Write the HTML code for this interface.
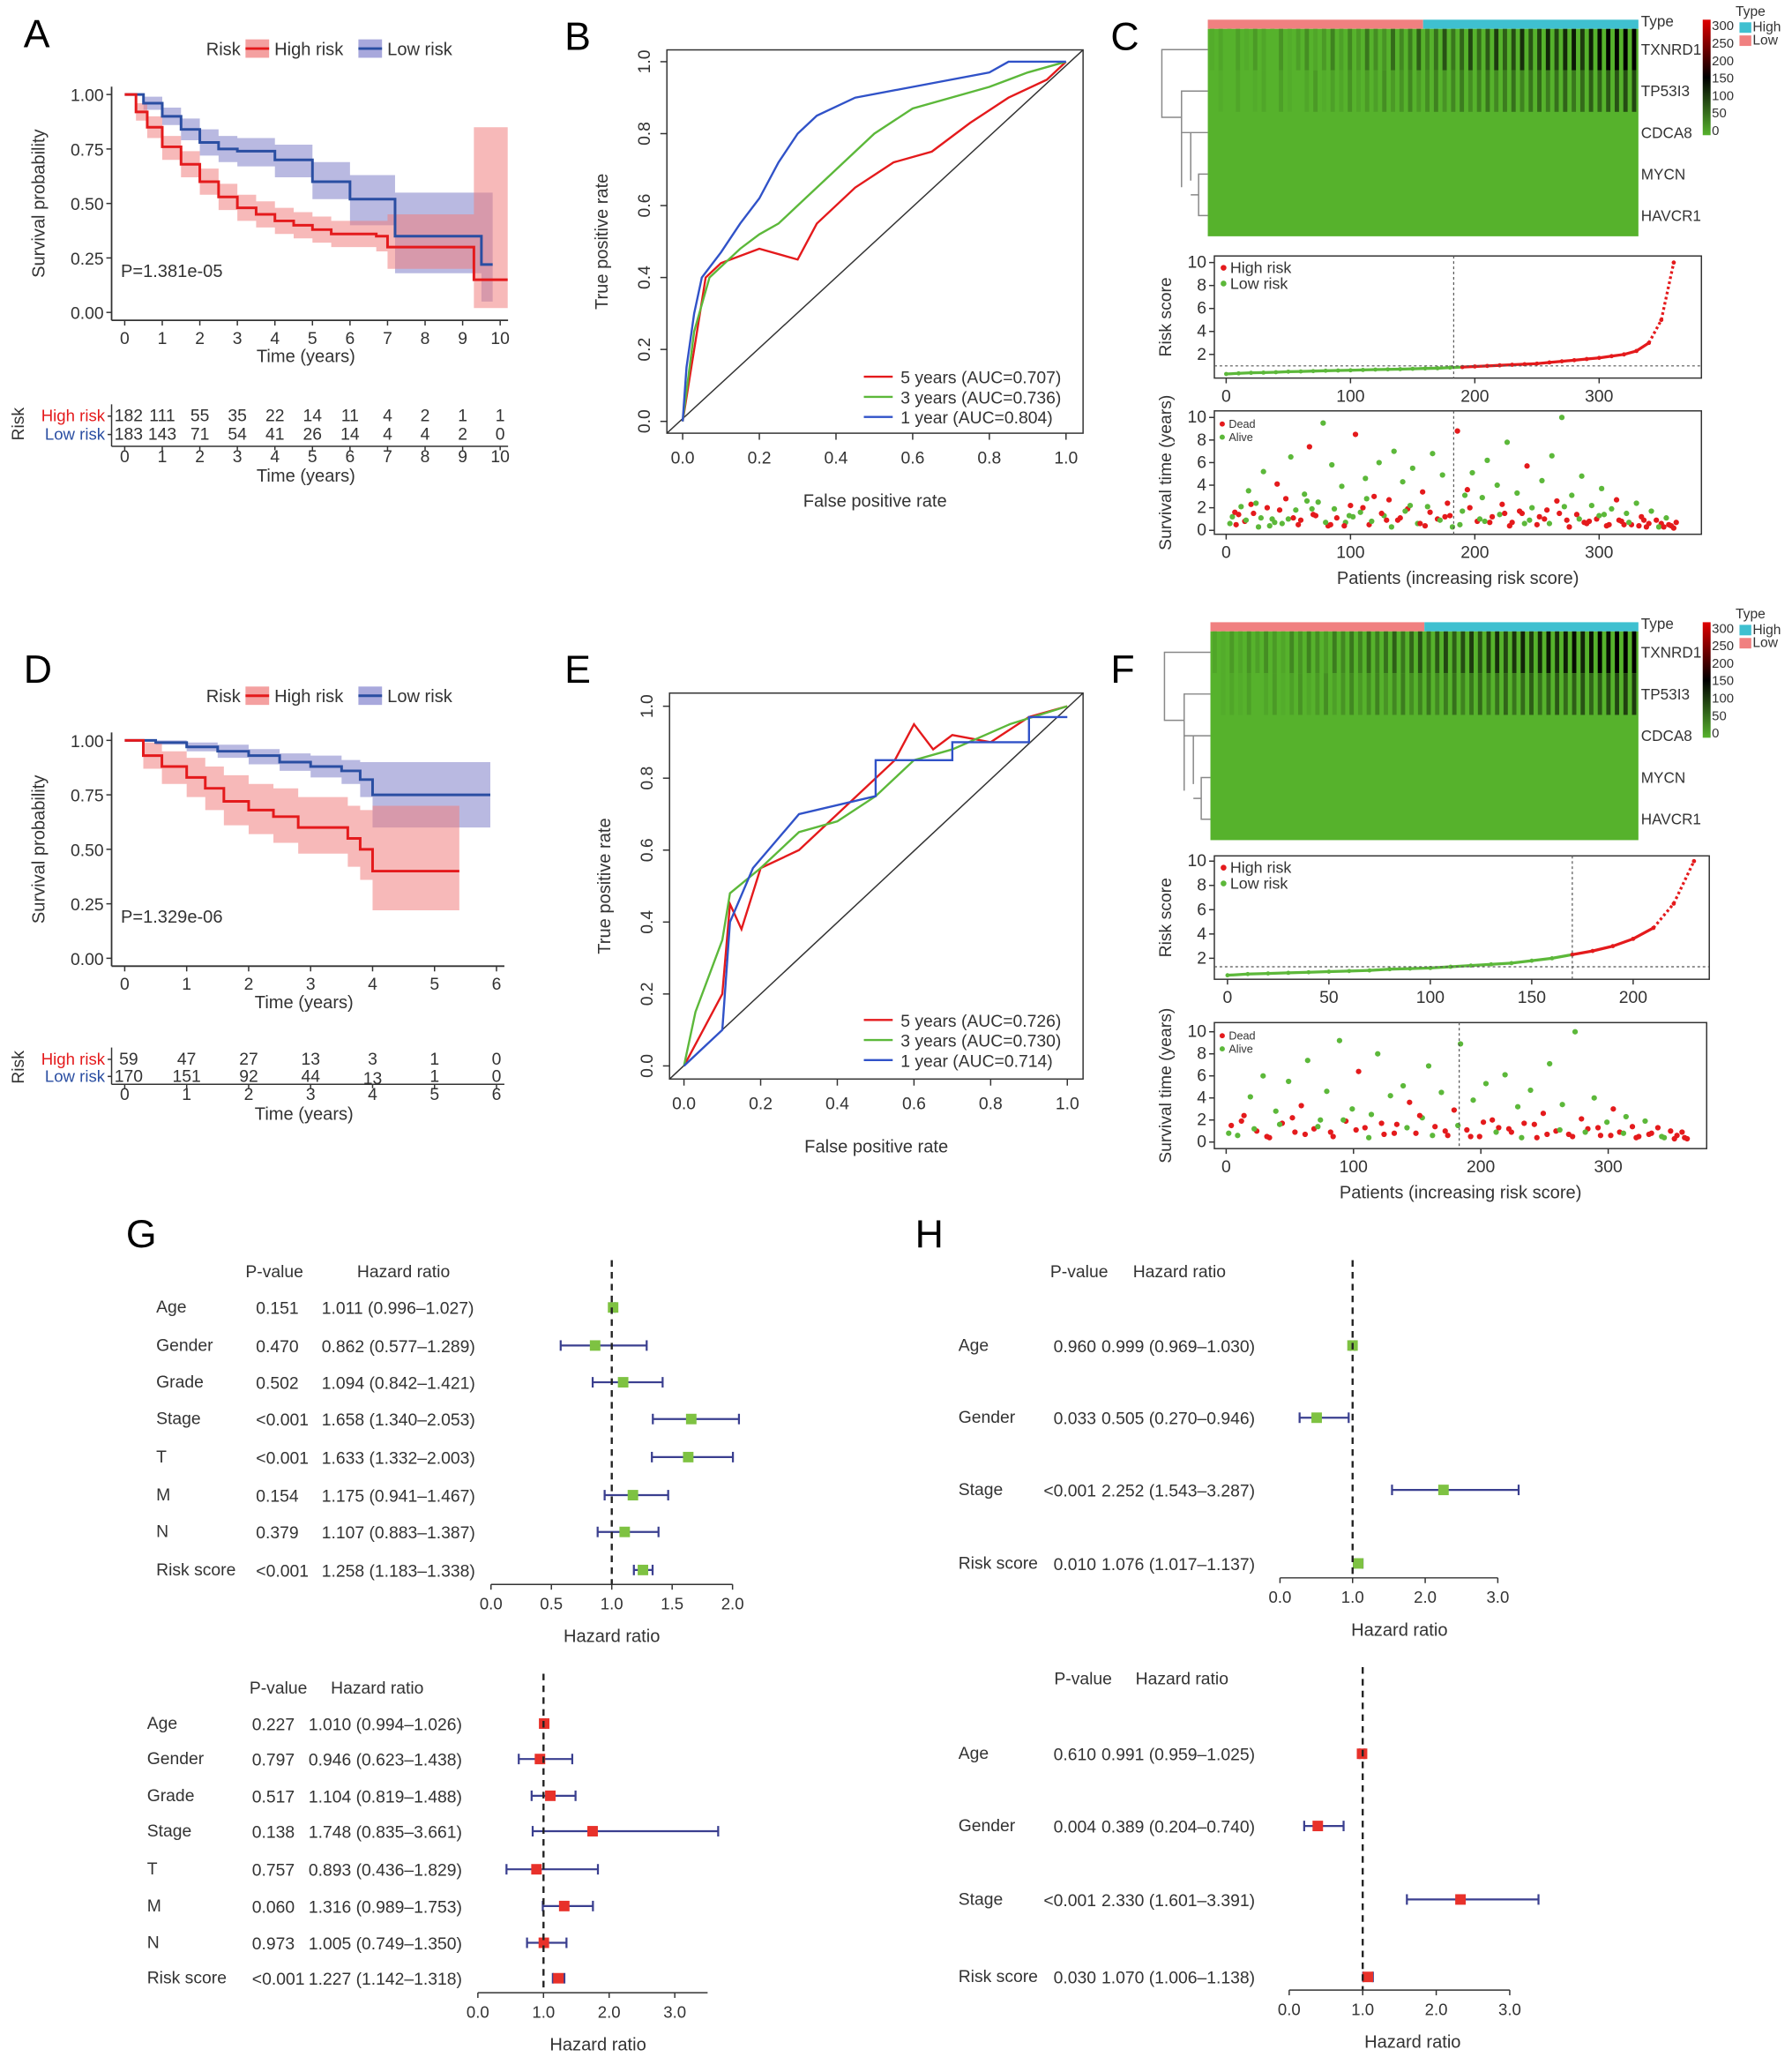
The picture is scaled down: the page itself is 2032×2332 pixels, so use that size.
<!DOCTYPE html>
<html><head><meta charset="utf-8"><style>
html,body{margin:0;padding:0;background:#fff;}
svg{display:block;font-family:"Liberation Sans",Arial,sans-serif;}
</style></head><body>
<svg id="fig" width="2032" height="2332" viewBox="0 0 1365 1567" preserveAspectRatio="none" xmlns="http://www.w3.org/2000/svg"></svg>
<script>
// ---------- DATA ----------
const kmA_high_t=[0,0.3,0.6,1,1.5,2,2.5,3,3.5,4,4.5,5,5.5,6.7,7,9.3,10.2];
const kmA_high_s=[1,0.92,0.85,0.76,0.68,0.6,0.53,0.48,0.45,0.42,0.4,0.38,0.36,0.35,0.3,0.15,0.15];
const kmA_high_lo=[1,0.88,0.8,0.7,0.62,0.54,0.47,0.42,0.39,0.36,0.34,0.32,0.3,0.28,0.2,0.02,0.02];
const kmA_high_hi=[1,0.96,0.9,0.81,0.74,0.66,0.59,0.54,0.51,0.48,0.46,0.44,0.42,0.42,0.45,0.85,0.85];
const kmA_low_t=[0,0.5,1,1.5,2,2.5,3,4,5,6,7.2,9.5,9.8];
const kmA_low_s=[1,0.96,0.9,0.84,0.78,0.75,0.74,0.7,0.6,0.52,0.35,0.22,0.22];
const kmA_low_lo=[1,0.93,0.86,0.79,0.72,0.69,0.67,0.62,0.52,0.4,0.18,0.05,0.05];
const kmA_low_hi=[1,0.99,0.94,0.89,0.84,0.81,0.8,0.77,0.69,0.63,0.55,0.55,0.55];
const kmD_high_t=[0,0.3,0.6,1,1.3,1.6,2,2.4,2.8,3.6,3.8,4,5.4];
const kmD_high_s=[1,0.93,0.88,0.83,0.78,0.72,0.68,0.65,0.6,0.55,0.5,0.4,0.4];
const kmD_high_lo=[1,0.87,0.8,0.74,0.68,0.61,0.57,0.53,0.48,0.42,0.36,0.22,0.22];
const kmD_high_hi=[1,0.99,0.95,0.92,0.88,0.84,0.8,0.78,0.74,0.7,0.68,0.7,0.7];
const kmD_low_t=[0,0.5,1,1.5,2,2.5,3,3.5,3.8,4,5.9];
const kmD_low_s=[1,0.99,0.97,0.95,0.93,0.9,0.88,0.86,0.82,0.75,0.75];
const kmD_low_lo=[1,0.98,0.95,0.92,0.89,0.86,0.83,0.8,0.74,0.6,0.6];
const kmD_low_hi=[1,1,0.99,0.98,0.96,0.94,0.93,0.91,0.9,0.9,0.9];
const riskA_high=["182","111","55","35","22","14","11","4","2","1","1"];
const riskA_low=["183","143","71","54","41","26","14","4","4","2","0"];
const riskD_high=["59","47","27","13","3","1","0"];
const riskD_low=["170","151","92","44","13","1","0"];

const rocB_red_x=[0,0.03,0.06,0.1,0.2,0.3,0.35,0.45,0.55,0.65,0.75,0.85,0.95,1];
const rocB_red_y=[0,0.2,0.4,0.44,0.48,0.45,0.55,0.65,0.72,0.75,0.83,0.9,0.95,1];
const rocB_green_x=[0,0.03,0.07,0.15,0.2,0.25,0.3,0.4,0.5,0.6,0.8,0.9,1];
const rocB_green_y=[0,0.25,0.4,0.48,0.52,0.55,0.6,0.7,0.8,0.87,0.93,0.97,1];
const rocB_blue_x=[0,0.01,0.03,0.05,0.1,0.15,0.2,0.25,0.3,0.35,0.45,0.6,0.8,0.85,1];
const rocB_blue_y=[0,0.15,0.3,0.4,0.47,0.55,0.62,0.72,0.8,0.85,0.9,0.93,0.97,1,1];
const rocE_red_x=[0,0.05,0.1,0.12,0.15,0.2,0.3,0.4,0.5,0.55,0.6,0.65,0.7,0.8,0.9,1];
const rocE_red_y=[0,0.1,0.2,0.45,0.38,0.55,0.6,0.7,0.8,0.85,0.95,0.88,0.92,0.9,0.97,1];
const rocE_green_x=[0,0.03,0.1,0.12,0.2,0.3,0.4,0.5,0.6,0.7,0.85,1];
const rocE_green_y=[0,0.15,0.35,0.48,0.55,0.65,0.68,0.75,0.85,0.88,0.95,1];
const rocE_blue_x=[0,0.1,0.12,0.18,0.3,0.5,0.5,0.7,0.7,0.9,0.9,1];
const rocE_blue_y=[0,0.1,0.4,0.55,0.7,0.75,0.85,0.85,0.9,0.9,0.97,0.97];

const heatC_txnrd1=[5,10,0,15,5,20,10,0,25,5,15,30,10,20,40,15,35,20,50,30,25,60,35,45,70,40,55,80,50,65,90,60,75,100,70,85,110,80,95,120,90,115,130,100,125,140,150,145,150,150];
const heatC_tp53i3=[0,5,0,10,0,5,10,0,15,5,0,10,20,5,15,10,25,10,20,15,30,20,25,35,20,30,40,25,35,45,30,40,50,35,45,55,40,50,60,45,55,65,50,60,70,65,75,80,85,90];
const heatF_txnrd1=[10,5,20,10,25,15,30,20,10,35,25,40,30,20,45,35,50,40,60,45,55,70,50,65,80,60,75,90,70,85,100,80,95,110,90,105,120,100,115,130,110,125,140,120,135,150,140,150,150,150];
const heatF_tp53i3=[0,5,10,5,15,0,10,20,5,15,25,10,20,30,15,25,35,20,30,40,25,35,45,30,40,50,35,45,55,40,50,60,45,55,65,50,60,70,55,65,75,60,70,80,65,75,85,90,95,100];

const rsC=[0.3,0.35,0.4,0.42,0.45,0.5,0.52,0.55,0.58,0.6,0.62,0.65,0.68,0.7,0.72,0.75,0.78,0.8,0.85,0.9,0.95,1.0,1.05,1.1,1.15,1.2,1.3,1.4,1.5,1.6,1.7,1.85,2.0,2.3,3.0,5.0,10.0];
const rsF=[0.6,0.7,0.75,0.8,0.85,0.9,0.95,1.0,1.1,1.15,1.2,1.3,1.4,1.5,1.6,1.8,2.0,2.3,2.6,3.0,3.6,4.5,6.5,10];

const survC_idx=[5,8,12,15,18,22,26,30,33,37,41,45,48,52,56,60,63,67,70,74,78,82,85,89,93,96,100,104,108,112,115,119,123,127,131,135,138,142,146,150,154,158,162,166,170,174,178,182,186,190,194,198,202,206,210,214,218,222,226,230,234,238,242,246,250,254,258,262,266,270,274,278,282,286,290,294,298,302,306,310,314,318,322,326,330,334,338,342,346,350,354,358,362,
 3,10,16,20,28,35,43,50,58,65,72,80,87,95,102,110,117,125,133,140,148,156,164,172,180,188,196,204,212,220,228,236,244,252,260,268,276,284,292,300,308,316,324,332,340,348,356,360,
 7,24,39,54,69,84,99,113,129,144,160,176,192,208,224,240,256,272,288,304,320,336,352];
const survC_time=[1.2,0.5,2.1,0.8,3.5,1.5,0.3,5.2,2.0,1.0,4.1,0.6,2.8,6.5,1.8,0.9,3.2,7.4,1.4,2.5,9.5,0.4,5.8,1.1,3.9,0.7,2.2,8.5,1.6,4.6,0.5,3.0,6.0,1.3,2.7,7.0,0.9,4.3,1.9,5.5,0.6,3.4,2.1,6.8,1.0,4.9,2.4,0.3,8.8,1.7,3.6,5.1,0.8,2.9,6.2,1.2,4.0,2.3,7.8,0.7,3.3,1.5,5.7,2.0,0.5,4.4,1.8,6.6,2.6,10.0,0.9,3.1,1.4,4.8,0.6,2.2,1.0,3.7,0.4,1.9,2.7,0.8,1.5,0.5,2.4,1.2,0.3,1.7,0.9,0.6,1.1,0.4,0.7,
 0.6,1.4,0.9,2.3,1.1,0.4,1.8,1.0,0.5,2.6,1.3,0.7,1.9,0.4,1.2,2.0,0.8,1.5,0.3,1.1,2.2,0.6,1.6,0.9,1.3,0.5,2.0,1.0,0.7,1.4,0.4,1.7,0.9,1.2,0.6,1.5,0.3,1.0,0.8,1.3,0.5,0.9,0.7,0.4,0.6,0.3,0.5,0.2,
 1.6,2.4,0.7,1.1,1.9,0.5,1.3,2.8,0.9,1.7,0.4,1.2,3.1,0.8,1.5,0.6,1.0,2.1,0.7,1.4,0.5,0.9,0.3];
const survC_dead=[0,1,0,1,0,1,0,0,1,0,1,0,1,0,0,1,0,1,1,0,0,1,0,1,0,0,1,1,0,0,1,1,0,0,1,0,1,0,1,0,0,1,0,0,1,0,1,0,1,0,1,0,1,0,0,1,0,1,0,1,0,1,1,0,1,0,1,0,1,0,1,0,1,0,1,0,1,0,1,0,1,1,0,1,0,1,1,0,1,1,0,1,1,
 0,1,0,1,0,0,1,0,1,0,1,0,0,1,0,1,0,1,0,1,0,1,1,0,1,0,1,0,1,0,1,1,0,1,0,1,1,0,1,0,1,1,0,1,1,0,1,1,
 1,0,0,1,0,1,0,0,1,0,1,1,0,0,1,0,1,0,1,0,1,1,1];
const survF_idx=[4,9,14,19,24,29,34,39,44,49,54,59,64,69,74,79,84,89,94,99,104,109,114,119,124,129,134,139,144,149,154,159,164,169,174,179,184,189,194,199,204,209,214,219,224,229,234,239,244,249,254,259,264,269,274,279,284,289,294,299,304,309,314,319,324,329,334,339,344,349,354,358,362,
 2,12,22,32,42,52,62,72,82,92,102,112,122,132,142,152,162,172,182,192,202,212,222,232,242,252,262,272,282,292,302,312,322,332,342,352,360];
const survF_time=[1.5,0.6,2.4,4.1,1.0,6.0,0.4,2.8,1.7,5.5,0.9,3.3,7.4,1.2,2.0,4.6,0.5,9.2,1.9,3.0,6.4,1.3,2.5,8.0,0.7,4.2,1.6,5.1,3.6,0.8,2.2,6.9,1.4,4.5,0.6,2.9,8.9,1.1,3.8,0.5,5.3,2.0,1.3,6.1,0.9,3.2,1.7,4.7,0.4,2.6,7.1,1.0,3.4,0.7,10.0,2.1,1.2,4.0,0.6,1.8,3.0,0.9,2.3,1.4,0.5,1.9,0.8,1.3,0.4,1.0,0.6,0.9,0.3,
 0.8,1.9,1.2,0.5,1.6,2.2,0.7,1.4,0.9,2.0,1.1,0.4,1.7,0.8,1.3,2.4,0.6,1.0,1.5,0.5,1.8,0.9,1.2,0.4,1.6,0.7,1.1,0.5,0.9,1.3,0.6,0.8,0.4,0.7,0.5,0.3,0.4];
const survF_dead=[1,0,1,0,1,0,1,0,1,0,1,1,0,1,0,0,1,0,1,0,1,1,0,0,1,0,1,0,1,1,0,0,1,0,1,1,0,1,0,1,0,1,1,0,1,0,1,0,1,1,0,1,0,1,0,1,1,0,1,0,1,1,0,1,1,0,1,1,0,1,1,1,1,
 0,1,0,1,0,1,1,0,1,0,1,0,1,1,0,1,0,1,0,1,1,0,1,0,1,1,0,1,0,1,1,0,1,1,0,1,1];

const fgLabels=["Age","Gender","Grade","Stage","T","M","N","Risk score"];
const g1_p=["0.151","0.470","0.502","<0.001","<0.001","0.154","0.379","<0.001"];
const g1_hr=[1.011,0.862,1.094,1.658,1.633,1.175,1.107,1.258];
const g1_lo=[0.996,0.577,0.842,1.340,1.332,0.941,0.883,1.183];
const g1_hi=[1.027,1.289,1.421,2.053,2.003,1.467,1.387,1.338];
const g2_p=["0.227","0.797","0.517","0.138","0.757","0.060","0.973","<0.001"];
const g2_hr=[1.010,0.946,1.104,1.748,0.893,1.316,1.005,1.227];
const g2_lo=[0.994,0.623,0.819,0.835,0.436,0.989,0.749,1.142];
const g2_hi=[1.026,1.438,1.488,3.661,1.829,1.753,1.350,1.318];
const fhLabels=["Age","Gender","Stage","Risk score"];
const h1_p=["0.960","0.033","<0.001","0.010"];
const h1_hr=[0.999,0.505,2.252,1.076];
const h1_lo=[0.969,0.270,1.543,1.017];
const h1_hi=[1.030,0.946,3.287,1.137];
const h2_p=["0.610","0.004","<0.001","0.030"];
const h2_hr=[0.991,0.389,2.330,1.070];
const h2_lo=[0.959,0.204,1.601,1.006];
const h2_hi=[1.025,0.740,3.391,1.138];

// ---------- HELPERS ----------
const NS="http://www.w3.org/2000/svg";
const svg=document.getElementById('fig');
function add(tag,attrs,name,parent){
  const el=document.createElementNS(NS,tag);
  for(const k in attrs) el.setAttribute(k,attrs[k]);
  
  
  (parent||svg).appendChild(el);
  return el;
}
function txt(x,y,s,name,opt){
  opt=opt||{};
  const a={x:x,y:y,'font-size':opt.fs||13,fill:opt.fill||'#333','text-anchor':opt.anchor||'start'};
  if(opt.rot!==undefined) a.transform=`rotate(${opt.rot} ${x} ${y})`;
  const t=add('text',a,name);
  t.textContent=s;
  return t;
}
function line(x1,y1,x2,y2,name,stroke,w,dash){
  const a={x1:x1,y1:y1,x2:x2,y2:y2,stroke:stroke||'#333','stroke-width':w||1};
  if(dash) a['stroke-dasharray']=dash;
  return add('line',a,name);
}
const RED='#e41a1c',BLUE='#2a4ea2',GREEN='#5cb83a';

[["A",18,36],["B",430,38],["C",846,38],["D",18,520],["E",430,520],["F",846,520],["G",96,950],["H",697,950]].forEach(p=>txt(p[1],p[2],p[0],'panel-label-'+p[0].toLowerCase(),{fs:30,fill:'#000'}));

// ---------- KM ----------
function km(cfg){
  const X=t=>cfg.x0+t*cfg.xs, Y=s=>cfg.y0-s*(cfg.y0-cfg.y1);
  function stepPath(ts,ss){let d=`M${X(ts[0])},${Y(ss[0])}`;for(let i=1;i<ts.length;i++){d+=` H${X(ts[i])} V${Y(ss[i])}`;}return d;}
  function band(ts,lo,hi){let up=[],dn=[];for(let i=0;i<ts.length;i++){const xa=X(ts[i]),xb=X(i+1<ts.length?ts[i+1]:ts[i]);up.push(`${xa},${Y(hi[i])}`,`${xb},${Y(hi[i])}`);dn.push(`${xa},${Y(lo[i])}`,`${xb},${Y(lo[i])}`);}return up.concat(dn.reverse()).join(' ');}
  add('polygon',{points:band(cfg.lt,cfg.llo,cfg.lhi),fill:'#8080c8','fill-opacity':0.55},cfg.id+'-low-ci');
  add('polygon',{points:band(cfg.ht,cfg.hlo,cfg.hhi),fill:'#f08080','fill-opacity':0.55},cfg.id+'-high-ci');
  add('path',{d:stepPath(cfg.lt,cfg.ls),stroke:BLUE,'stroke-width':2,fill:'none'},cfg.id+'-low-curve');
  add('path',{d:stepPath(cfg.ht,cfg.hs),stroke:RED,'stroke-width':2,fill:'none'},cfg.id+'-high-curve');
  line(cfg.ax,cfg.y1-6,cfg.ax,cfg.y0+6,cfg.id+'-y-axis','#333',1.2);
  line(cfg.ax,cfg.y0+6,X(cfg.tmax)+6,cfg.y0+6,cfg.id+'-x-axis','#333',1.2);
  [0,0.25,0.5,0.75,1].forEach(v=>{line(cfg.ax-4,Y(v),cfg.ax,Y(v),'y-tick');txt(cfg.ax-6,Y(v)+5,v.toFixed(2),'y-tick-label',{anchor:'end'});});
  for(let t=0;t<=cfg.tmax;t++){line(X(t),cfg.y0+6,X(t),cfg.y0+10,'x-tick');txt(X(t),cfg.y0+24,String(t),'x-tick-label',{anchor:'middle'});}
  txt((cfg.ax+X(cfg.tmax))/2,cfg.y0+38,'Time (years)','x-axis-title',{anchor:'middle',fs:13.5});
  txt(34,(cfg.y0+cfg.y1)/2,'Survival probability','y-axis-title',{anchor:'middle',rot:-90,fs:13.5});
  txt(cfg.ax+7,cfg.y0-27,cfg.p,'p-value',{fs:13.5});
  const ly=cfg.ly;
  txt(157,ly+5,'Risk','legend-title',{fs:13.5});
  add('rect',{x:187,y:ly-7,width:18,height:14,fill:'#f4a0a0'},'legend-high-swatch');line(187,ly,205,ly,'legend-high-line',RED,2);
  txt(209,ly+5,'High risk','legend-high-label',{fs:13.5});
  add('rect',{x:273,y:ly-7,width:18,height:14,fill:'#a8a8dc'},'legend-low-swatch');line(273,ly,291,ly,'legend-low-line',BLUE,2);
  txt(295,ly+5,'Low risk','legend-low-label',{fs:13.5});
  const r=cfg.rt;
  txt(18,r.y1+6,'Risk','risk-table-title',{rot:-90,anchor:'middle',fs:13});
  txt(cfg.ax-5,r.y1+4,'High risk','risk-high-label',{anchor:'end',fill:RED,fs:12.5});
  txt(cfg.ax-5,r.y2+4,'Low risk','risk-low-label',{anchor:'end',fill:BLUE,fs:12.5});
  line(cfg.ax,r.y1-9,cfg.ax,r.axis,'risk-table-y-axis');
  line(cfg.ax-3,r.y1,cfg.ax,r.y1,'rt-ytick');line(cfg.ax-3,r.y2,cfg.ax,r.y2,'rt-ytick');
  line(cfg.ax,r.axis,X(cfg.tmax)+6,r.axis,'risk-table-x-axis');
  cfg.rh.forEach((v,i)=>txt(X(i)+(i==0?3:0),r.y1+4,v,'risk-high-count',{anchor:'middle'}));
  cfg.rl.forEach((v,i)=>txt(X(i)+(i==0?3:0),r.y2+4+(cfg.rlshift&&cfg.rlshift[i]||0),v,'risk-low-count',{anchor:'middle'}));
  for(let t=0;t<=cfg.tmax;t++){line(X(t),r.axis,X(t),r.axis+3,'rt-tick');txt(X(t),r.axis+12,String(t),'rt-tick-label',{anchor:'middle'});}
  txt((cfg.ax+X(cfg.tmax))/2,r.axis+27,'Time (years)','rt-x-title',{anchor:'middle',fs:13.5});
}
km({id:'km-a',x0:95,xs:28.6,y0:238,y1:72,ax:85,tmax:10,p:'P=1.381e-05',ly:37,
  ht:kmA_high_t,hs:kmA_high_s,hlo:kmA_high_lo,hhi:kmA_high_hi,lt:kmA_low_t,ls:kmA_low_s,llo:kmA_low_lo,lhi:kmA_low_hi,
  rh:riskA_high,rl:riskA_low,rt:{y1:317,y2:331,axis:340}});
km({id:'km-d',x0:95,xs:47.2,y0:730,y1:564,ax:85,tmax:6,p:'P=1.329e-06',ly:530,
  ht:kmD_high_t,hs:kmD_high_s,hlo:kmD_high_lo,hhi:kmD_high_hi,lt:kmD_low_t,ls:kmD_low_s,llo:kmD_low_lo,lhi:kmD_low_hi,
  rh:riskD_high,rl:riskD_low,rlshift:[0,0,0,0,2,0,0],rt:{y1:807,y2:820,axis:826}});

// ---------- ROC ----------
function roc(cfg){
  const X=v=>cfg.x0+v*(cfg.x1-cfg.x0), Y=v=>cfg.y0-v*(cfg.y0-cfg.y1);
  add('rect',{x:cfg.bx0,y:cfg.by0,width:cfg.bx1-cfg.bx0,height:cfg.by1-cfg.by0,fill:'none',stroke:'#333','stroke-width':1},cfg.id+'-frame');
  line(cfg.bx0,cfg.by1,cfg.bx1,cfg.by0,cfg.id+'-diagonal','#333',1);
  [0,0.2,0.4,0.6,0.8,1].forEach(v=>{
    line(X(v),cfg.by1,X(v),cfg.by1+5,'x-tick');txt(X(v),cfg.by1+23,v.toFixed(1),'x-tick-label',{anchor:'middle'});
    line(cfg.bx0-5,Y(v),cfg.bx0,Y(v),'y-tick');txt(cfg.bx0-13,Y(v),v.toFixed(1),'y-tick-label',{anchor:'middle',rot:-90});
  });
  txt((cfg.bx0+cfg.bx1)/2,cfg.by1+56,'False positive rate','x-axis-title',{anchor:'middle',fs:13.5});
  txt(cfg.bx0-45,(cfg.by0+cfg.by1)/2,'True positive rate','y-axis-title',{anchor:'middle',rot:-90,fs:13.5});
  cfg.series.forEach(s=>{
    const pts=s.x.map((v,i)=>`${X(v)},${Y(s.y[i])}`).join(' ');
    add('polyline',{points:pts,fill:'none',stroke:s.c,'stroke-width':1.6},cfg.id+'-curve-'+s.n);
  });
  cfg.legend.forEach((l,i)=>{const y=cfg.ly+i*15.3;line(658,y,680,y,'legend-line',l[1],1.6);txt(686,y+5,l[0],'legend-label',{fs:13});});
}
roc({id:'roc-b',x0:520,x1:812,y0:321,y1:47,bx0:508,bx1:825,by0:38,by1:330,ly:287,
  series:[{n:'5y',x:rocB_red_x,y:rocB_red_y,c:RED},{n:'3y',x:rocB_green_x,y:rocB_green_y,c:GREEN},{n:'1y',x:rocB_blue_x,y:rocB_blue_y,c:'#3052c8'}],
  legend:[["5 years (AUC=0.707)",RED],["3 years (AUC=0.736)",GREEN],["1 year (AUC=0.804)",'#3052c8']]});
roc({id:'roc-e',x0:521,x1:813,y0:812,y1:538,bx0:510,bx1:825,by0:528,by1:822,ly:777,
  series:[{n:'5y',x:rocE_red_x,y:rocE_red_y,c:RED},{n:'3y',x:rocE_green_x,y:rocE_green_y,c:GREEN},{n:'1y',x:rocE_blue_x,y:rocE_blue_y,c:'#3052c8'}],
  legend:[["5 years (AUC=0.726)",RED],["3 years (AUC=0.730)",GREEN],["1 year (AUC=0.714)",'#3052c8']]});

// ---------- HEATMAP + risk plots ----------
function heatColor(v){
  const g=[86,178,44];
  if(v<=150){const f=v/150;return `rgb(${Math.round(g[0]*(1-f))},${Math.round(g[1]*(1-f))},${Math.round(g[2]*(1-f))})`;}
  const f=(v-150)/150;return `rgb(${Math.round(230*f)},0,0)`;
}
function heat(cfg){
  const {x0,x1,y0,y1}=cfg;const rh=(y1-y0)/5;
  add('rect',{x:x0,y:y0-7,width:(x1-x0)/2,height:7,fill:'#f08080'},cfg.id+'-anno-low');
  add('rect',{x:(x0+x1)/2,y:y0-7,width:(x1-x0)/2,height:7,fill:'#3fc0d0'},cfg.id+'-anno-high');
  add('rect',{x:x0,y:y0,width:x1-x0,height:y1-y0,fill:'rgb(86,178,44)'},cfg.id+'-body');
  [[cfg.r1,0],[cfg.r2,1]].forEach(([arr,row])=>{
    const w=(x1-x0)/arr.length;
    arr.forEach((v,i)=>add('rect',{x:x0+i*w+w*0.25,y:y0+row*rh,width:w*0.5,height:rh,fill:heatColor(v)},'heat-cell'));
  });
  const genes=["TXNRD1","TP53I3","CDCA8","MYCN","HAVCR1"];
  genes.forEach((g,i)=>txt(x1+2,y0+rh*i+rh/2+4,g,'gene-label',{fs:11.5}));
  txt(x1+2,y0-2,'Type','anno-label',{fs:11.5});
  const gy=i=>y0+rh*i+rh/2, dx=x0-35;
  const d=`M${x0},${gy(0)} H${dx} V${gy(1)+20} H${dx+15} M${x0},${gy(1)} H${dx+15} V${gy(3)+10} H${dx+15} M${dx+15},${(gy(1)+gy(3))/2} H${dx+22} M${x0},${gy(2)} H${dx+22} V${gy(3)+5} M${x0},${gy(3)} H${dx+28} V${gy(4)} H${x0} M${dx+22},${(gy(3)+gy(4))/2} H${dx+28}`;
  add('path',{d:d,stroke:'#888',fill:'none','stroke-width':1},cfg.id+'-dendrogram');
  const kx=1297,ky=y0-7;
  const grad=add('linearGradient',{id:cfg.id+'g',x1:0,y1:0,x2:0,y2:1},'key-gradient');
  [['0%','#e00000'],['50%','#000'],['100%','#56b22c']].forEach(s=>add('stop',{offset:s[0],'stop-color':s[1]},'grad-stop',grad));
  add('rect',{x:kx,y:ky,width:6,height:88,fill:`url(#${cfg.id}g)`},cfg.id+'-color-key');
  ["300","250","200","150","100","50","0"].forEach((s,i)=>txt(kx+7,ky+8+i*13.3,s,'key-label',{fs:10}));
  txt(1322,y0-10,'Type','type-legend-title',{fs:10.5});
  add('rect',{x:1325,y:y0-5,width:9,height:8,fill:'#3fc0d0'},'type-high-swatch');txt(1335,y0+2,'High','type-high-label',{fs:10.5});
  add('rect',{x:1325,y:y0+5,width:9,height:8,fill:'#f08080'},'type-low-swatch');txt(1335,y0+12,'Low','type-low-label',{fs:10.5});
}
heat({id:'heat-c',x0:920,x1:1248,y0:22,y1:180,r1:heatC_txnrd1,r2:heatC_tp53i3});
heat({id:'heat-f',x0:922,x1:1248,y0:481,y1:640,r1:heatF_txnrd1,r2:heatF_tp53i3});

function riskPlot(cfg){
  const X=i=>cfg.x0+i*cfg.xs, Y=v=>cfg.y0-v*cfg.ys;
  add('rect',{x:cfg.bx0,y:cfg.by0,width:cfg.bx1-cfg.bx0,height:cfg.by1-cfg.by0,fill:'none',stroke:'#333'},cfg.id+'-frame');
  const n=cfg.rs.length;
  for(let i=0;i<n;i++){
    const pid=i*cfg.step;const c=pid<cfg.cut?GREEN:RED;
    if(i<n-1){add('line',{x1:X(pid),y1:Y(cfg.rs[i]),x2:X((i+1)*cfg.step),y2:Y(cfg.rs[i+1]),stroke:c,'stroke-width':2.2,'stroke-dasharray':i>=n-3?'2,2':'none'},'risk-line-seg');}
    add('circle',{cx:X(pid),cy:Y(cfg.rs[i]),r:1.6,fill:c},'risk-point');
  }
  line(X(cfg.cut),cfg.by0,X(cfg.cut),cfg.by1,'cutoff-vline','#555',0.8,'2,2');
  line(cfg.bx0,Y(cfg.cutv),cfg.bx1,Y(cfg.cutv),'cutoff-hline','#555',0.8,'2,2');
  [2,4,6,8,10].forEach(v=>{line(cfg.bx0-4,Y(v),cfg.bx0,Y(v),'y-tick');txt(cfg.bx0-6,Y(v)+4,String(v),'y-tick-label',{anchor:'end'});});
  cfg.xt.forEach(v=>{line(X(v),cfg.by1,X(v),cfg.by1+4,'x-tick');txt(X(v),cfg.by1+18,String(v),'x-tick-label',{anchor:'middle'});});
  txt(892,(cfg.by0+cfg.by1)/2,'Risk score','y-axis-title',{anchor:'middle',rot:-90,fs:13});
  add('circle',{cx:cfg.bx0+7,cy:cfg.by0+9,r:2.2,fill:RED},'legend-high-dot');txt(cfg.bx0+12,cfg.by0+13,'High risk','legend-high-label',{fs:12});
  add('circle',{cx:cfg.bx0+7,cy:cfg.by0+21,r:2.2,fill:GREEN},'legend-low-dot');txt(cfg.bx0+12,cfg.by0+25,'Low risk','legend-low-label',{fs:12});
}
riskPlot({id:'risk-c',x0:934,xs:0.947,y0:287.5,ys:8.75,bx0:925,bx1:1296,by0:195,by1:288,rs:rsC,step:10,cut:183,cutv:1.0,xt:[0,100,200,300]});
riskPlot({id:'risk-f',x0:935,xs:1.545,y0:748.5,ys:9.25,bx0:925,bx1:1302,by0:652,by1:746,rs:rsF,step:10,cut:170,cutv:1.3,xt:[0,50,100,150,200]});

function survPlot(cfg){
  const X=i=>cfg.x0+i*cfg.xs, Y=v=>cfg.y0-v*cfg.ys;
  add('rect',{x:cfg.bx0,y:cfg.by0,width:cfg.bx1-cfg.bx0,height:cfg.by1-cfg.by0,fill:'none',stroke:'#333'},cfg.id+'-frame');
  cfg.idx.forEach((p,i)=>add('circle',{cx:X(p),cy:Y(cfg.time[i]),r:2.1,fill:cfg.dead[i]?RED:GREEN},'surv-point'));
  line(X(cfg.cut),cfg.by0,X(cfg.cut),cfg.by1,'cutoff-vline','#555',0.8,'2,2');
  [0,2,4,6,8,10].forEach(v=>{line(cfg.bx0-4,Y(v),cfg.bx0,Y(v),'y-tick');txt(cfg.bx0-6,Y(v)+4,String(v),'y-tick-label',{anchor:'end'});});
  [0,100,200,300].forEach(v=>{line(X(v),cfg.by1,X(v),cfg.by1+4,'x-tick');txt(X(v),cfg.by1+18,String(v),'x-tick-label',{anchor:'middle'});});
  txt(892,(cfg.by0+cfg.by1)/2,'Survival time (years)','y-axis-title',{anchor:'middle',rot:-90,fs:13});
  txt((cfg.bx0+cfg.bx1)/2,cfg.by1+38,'Patients (increasing risk score)','x-axis-title',{anchor:'middle',fs:13.5});
  add('circle',{cx:cfg.bx0+6,cy:cfg.by0+10,r:2,fill:RED},'legend-dead-dot');txt(cfg.bx0+11,cfg.by0+13,'Dead','legend-dead-label',{fs:8.5});
  add('circle',{cx:cfg.bx0+6,cy:cfg.by0+20,r:2,fill:GREEN},'legend-alive-dot');txt(cfg.bx0+11,cfg.by0+23,'Alive','legend-alive-label',{fs:8.5});
}
survPlot({id:'surv-c',x0:934,xs:0.947,y0:404,ys:8.6,bx0:925,bx1:1296,by0:313,by1:407,idx:survC_idx,time:survC_time,dead:survC_dead,cut:183});
survPlot({id:'surv-f',x0:934,xs:0.97,y0:870,ys:8.4,bx0:925,bx1:1300,by0:779,by1:875,idx:survF_idx,time:survF_time,dead:survF_dead,cut:183});

// ---------- FOREST ----------
function forest(cfg){
  const X=v=>cfg.x0+v*cfg.unit;
  txt(cfg.pX,cfg.hy,'P-value','header-pvalue',{fs:13});
  txt(cfg.hrHX,cfg.hy,'Hazard ratio','header-hr',{fs:13});
  cfg.labels.forEach((l,i)=>{
    const y=cfg.rows[i];
    txt(cfg.lX,y+4,l,'row-label',{fs:13});
    txt(cfg.pvX,y+5,cfg.p[i],'row-pvalue',{fs:13,anchor:cfg.pvAnchor||'start'});
    txt(cfg.hrX,y+5,`${cfg.hr[i].toFixed(3)} (${cfg.lo[i].toFixed(3)}–${cfg.hi[i].toFixed(3)})`,'row-hr-text',{fs:13});
    line(X(cfg.lo[i]),y,X(cfg.hi[i]),y,'ci-line','#3a3f8f',1.5);
    line(X(cfg.lo[i]),y-4,X(cfg.lo[i]),y+4,'ci-cap','#3a3f8f',1.5);
    line(X(cfg.hi[i]),y-4,X(cfg.hi[i]),y+4,'ci-cap','#3a3f8f',1.5);
    add('rect',{x:X(cfg.hr[i])-4,y:y-4,width:8,height:8,fill:cfg.col},'hr-marker');
  });
  line(X(1),cfg.dTop,X(1),cfg.axisY,'reference-line','#222',1.6,'5,4');
  line(X(0),cfg.axisY,X(cfg.tmax),cfg.axisY,'x-axis','#333',1);
  cfg.ticks.forEach(v=>{line(X(v),cfg.axisY,X(v),cfg.axisY+4,'x-tick');txt(X(v),cfg.axisY+19,v.toFixed(1),'x-tick-label',{anchor:'middle',fs:12.5});});
  txt((X(0)+X(cfg.tmax))/2+ (cfg.tOff||0),cfg.axisY+44,'Hazard ratio','x-axis-title',{anchor:'middle',fs:13.5});
}
const LG='#7ec242',LR='#e8312a';
forest({labels:fgLabels,p:g1_p,hr:g1_hr,lo:g1_lo,hi:g1_hi,col:LG,x0:374,unit:92,axisY:1207,dTop:960,tmax:2.0,ticks:[0,0.5,1,1.5,2],
  rows:[996,1025,1053,1081,1110,1139,1167,1196],hy:973,pX:187,hrHX:272,lX:119,pvX:195,hrX:245,tOff:0});
forest({labels:fgLabels,p:g2_p,hr:g2_hr,lo:g2_lo,hi:g2_hi,col:LR,x0:364,unit:50,axisY:1518,dTop:1275,tmax:3.5,ticks:[0,1,2,3],
  rows:[1313,1340,1368,1395,1424,1452,1480,1507],hy:1290,pX:190,hrHX:252,lX:112,pvX:192,hrX:235,tOff:4});
forest({labels:fhLabels,p:h1_p,hr:h1_hr,lo:h1_lo,hi:h1_hi,col:LG,x0:975,unit:55.3,axisY:1202,dTop:960,tmax:3.0,ticks:[0,1,2,3],
  rows:[1025,1080,1135,1191],hy:973,pX:800,hrHX:863,lX:730,pvX:835,pvAnchor:'end',hrX:839,tOff:8});
forest({labels:fhLabels,p:h2_p,hr:h2_hr,lo:h2_lo,hi:h2_hi,col:LR,x0:982,unit:56,axisY:1516,dTop:1270,tmax:3.0,ticks:[0,1,2,3],
  rows:[1336,1391,1447,1506],hy:1283,pX:803,hrHX:865,lX:730,pvX:835,pvAnchor:'end',hrX:839,tOff:10});
</script>
</body></html>
